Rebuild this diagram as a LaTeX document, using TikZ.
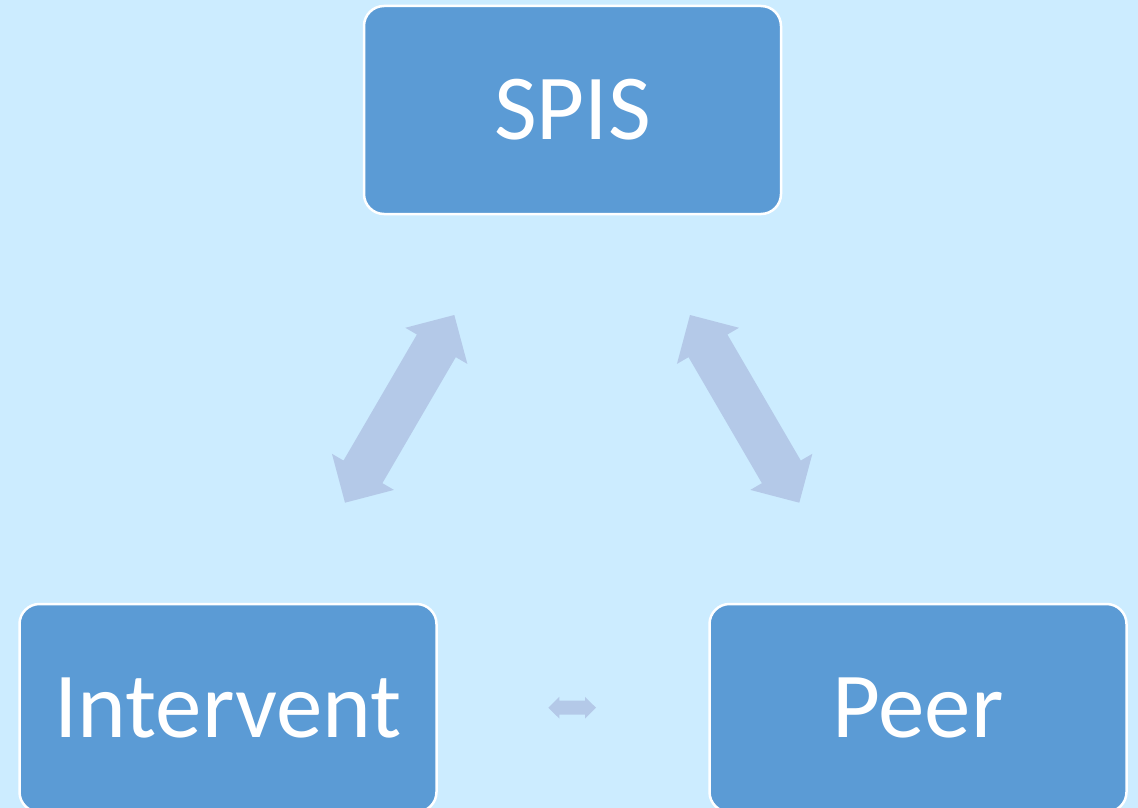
\documentclass[tikz,border=0pt]{standalone}
\usepackage{fontspec}
\setmainfont{Carlito}
\usetikzlibrary{calc}
\definecolor{bgc}{HTML}{CCECFF}
\definecolor{boxc}{HTML}{5B9BD5}
\definecolor{arrowc}{HTML}{B4C9E8}
\tikzset{
  boxnode/.style={draw=white, line width=2.5pt, fill=boxc, rounded corners=20pt,
    minimum width=417pt, minimum height=208pt, inner sep=0pt,
    text=white, font=\fontsize{93}{100}\selectfont},
  arrowfill/.style={fill=arrowc}
}
\newcommand{\dblarrow}[5]{%
  \coordinate (pa) at ($(#1)!#5!(#2)$);
  \coordinate (pb) at ($(#2)!#5!(#1)$);
  \fill[arrowfill] (#1) -- ($(pa)!#4!90:(#1)$) -- ($(pa)!#3!90:(#1)$)
    -- ($(pb)!#3!-90:(#2)$) -- ($(pb)!#4!-90:(#2)$) -- (#2)
    -- ($(pb)!#4!90:(#2)$) -- ($(pb)!#3!90:(#2)$)
    -- ($(pa)!#3!-90:(#1)$) -- ($(pa)!#4!-90:(#1)$) -- cycle;}
\begin{document}
\begin{tikzpicture}[x=1pt,y=-1pt]
\useasboundingbox (0,0) rectangle (1138,808);
\clip (0,0) rectangle (1138,808);
\fill[bgc] (0,0) rectangle (1138,808);
\node[boxnode] (spis) at (572.5,110) {SPIS};
\node[boxnode] (int) at (228,708) {Intervent};
\node[boxnode] (peer) at (918,708) {Peer};
\coordinate (l1) at (345,502.7);
\coordinate (l2) at (454.3,315);
\coordinate (r1) at (690,315);
\coordinate (r2) at (799.3,502.7);
\coordinate (s1) at (548.3,707.7);
\coordinate (s2) at (596,707.7);
\dblarrow{l1}{l2}{22.5pt}{35.9pt}{35.7pt}
\dblarrow{r1}{r2}{22.5pt}{35.9pt}{35.7pt}
\dblarrow{s1}{s2}{7pt}{10.8pt}{11pt}
\end{tikzpicture}
\end{document}
